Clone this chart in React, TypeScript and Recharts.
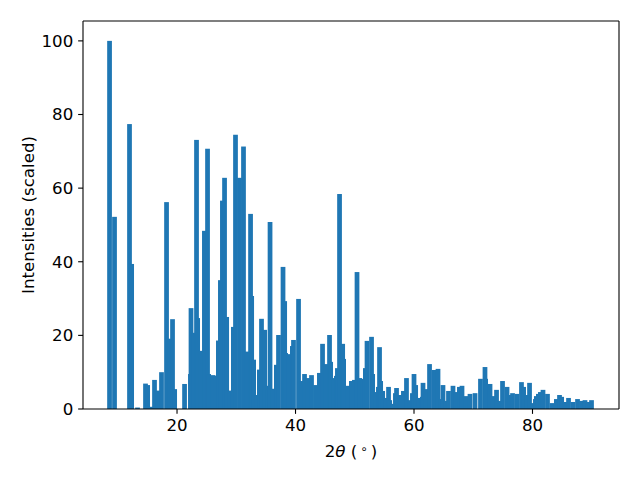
import React from "react";
import { BarChart, Bar, XAxis, YAxis, ReferenceLine } from "recharts";

// peak positions (2theta, degrees) and scaled intensities
const twoTheta = [
  8.61, 9.45, 11.98, 12.34, 13.33, 14.68, 15.04, 15.61, 16.2, 16.79,
  17.38, 18.23, 18.73, 19.24, 19.6, 21.27, 22.26, 22.36, 22.78, 23.29,
  23.48, 24.05, 24.62, 25.15, 25.34, 26.08, 26.81, 26.98, 27.32, 27.66,
  28.02, 28.38, 28.95, 29.51, 29.87, 30.55, 31.22, 31.81, 32.41, 32.6,
  32.93, 33.42, 33.9, 34.26, 34.79, 35.27, 35.7, 36.2, 36.77, 37.13,
  37.89, 38.17, 38.33, 38.9, 39.47, 39.66, 40.51, 41.01, 41.52, 42.11,
  42.7, 43.38, 44.03, 44.56, 45.15, 45.74, 45.93, 46.41, 46.9, 47.07,
  47.43, 47.96, 48.12, 48.92, 49.43, 49.94, 50.38, 50.82, 51.31, 51.79,
  52.07, 52.83, 53.02, 53.5, 53.99, 54.18, 54.37, 54.71, 55.19, 55.7,
  55.89, 56.37, 56.86, 57.05, 57.64, 58.21, 58.73, 59.24, 59.73, 60.0,
  60.28, 60.84, 61.41, 61.52, 62.03, 62.62, 63.38, 64.05, 64.47, 64.89,
  65.32, 65.82, 66.58, 67.09, 67.66, 68.1, 68.78, 69.45, 70.3, 71.22,
  71.98, 72.09, 72.83, 73.33, 73.93, 74.43, 74.94, 75.7, 76.12, 76.63,
  77.39, 78.14, 78.5, 78.99, 79.5, 80.0, 80.49, 80.65, 80.99, 81.33,
  81.77, 82.53, 83.29, 84.03, 84.56, 84.92, 85.49, 86.08, 86.84, 87.6,
  88.27, 88.86, 89.37, 89.96,
];

const intensity = [
  100, 52.2, 77.4, 39.4, 0.4, 6.9, 6.5, 0.6, 7.9, 5.0,
  10.0, 56.2, 19.1, 24.4, 5.4, 6.8, 9.5, 27.4, 20.7, 73.1,
  24.7, 15.8, 48.4, 70.7, 9.5, 9.2, 9.0, 18.6, 35.0, 56.6,
  62.8, 25.0, 5.0, 22.3, 74.5, 62.8, 71.3, 15.6, 53.0, 30.7,
  13.4, 3.8, 10.7, 24.5, 21.5, 6.3, 50.8, 5.5, 12.0, 20.1,
  38.6, 29.3, 15.2, 14.9, 17.1, 18.75, 29.9, 7.6, 9.5, 8.4,
  9.2, 6.5, 9.8, 17.7, 12.2, 20.1, 12.8, 8.4, 9.0, 11.1,
  58.4, 17.7, 13.6, 6.3, 7.6, 7.9, 37.2, 8.4, 8.2, 11.1,
  18.5, 19.6, 9.5, 4.6, 6.0, 16.8, 7.6, 4.9, 3.0, 6.0,
  2.4, 1.4, 4.3, 5.7, 3.8, 4.9, 8.4, 2.4, 4.3, 9.5,
  6.5, 3.0, 3.3, 7.1, 5.4, 12.2, 10.6, 10.9, 2.7, 6.5,
  2.2, 4.9, 6.3, 4.6, 6.0, 6.3, 3.5, 4.1, 4.3, 8.2,
  11.4, 8.2, 6.8, 3.5, 5.2, 2.2, 7.6, 6.0, 3.8, 4.3,
  4.1, 7.3, 6.0, 3.8, 7.1, 1.6, 2.7, 3.5, 4.1, 4.6,
  5.2, 4.1, 1.6, 2.7, 3.8, 3.3, 1.9, 3.0, 1.9, 2.7,
  2.2, 2.4, 1.9, 2.4,
];

const xTicks = [20, 40, 60, 80];
const yTicks = [0, 20, 40, 60, 80, 100];

const X_DOMAIN: [number, number] = [4.13, 94.6];
const Y_DOMAIN: [number, number] = [0, 105.4];

const WIDTH = 640;
const HEIGHT = 480;
const MARGIN = { top: 21, right: 21, bottom: 0, left: 0 };
const Y_AXIS_W = 83;
const X_AXIS_H = 71;
const PLOT_W = WIDTH - MARGIN.left - MARGIN.right - Y_AXIS_W;
// matplotlib default bar width of 0.8 data units, in pixels
const BAR_PX = (0.8 * PLOT_W) / (X_DOMAIN[1] - X_DOMAIN[0]);

const BLUE = "#1f77b4";
const FONT = "'DejaVu Sans', sans-serif";
const FS = 16.67;
const TICK = 4.86;

const data = twoTheta.map((x, i) => ({ x, y: intensity[i] }));

// keep recharts' centre for each bar but give it a fixed data width
function FixedBar(props: any) {
  const { x, y, width, height } = props;
  if (height == null || !isFinite(x)) return null;
  const cx = x + width / 2;
  return (
    <rect x={cx - BAR_PX / 2} y={y} width={BAR_PX} height={height} fill={BLUE} />
  );
}

function XLabel() {
  return (
    <text x={351} y={456.5} textAnchor="middle" fontFamily={FONT} fontSize={FS} fill="#000">
      <tspan>2</tspan>
      <tspan fontStyle="italic">θ</tspan>
      <tspan> (</tspan>
      <tspan dx={3} dy={-4} fontSize={12}>∘</tspan>
      <tspan dx={3} dy={4}>)</tspan>
    </text>
  );
}

function YLabel() {
  return (
    <text
      transform="translate(34,215) rotate(-90)"
      x={0}
      y={0}
      textAnchor="middle"
      fontFamily={FONT}
      fontSize={FS}
      fill="#000"
    >
      Intensities (scaled)
    </text>
  );
}

const tickStyle = { fill: "#000", fontSize: FS, fontFamily: FONT };

export default function App() {
  return (
    <div style={{ width: WIDTH, height: HEIGHT, background: "#fff" }}>
      <style>{`body { margin: 0; }`}</style>
      <BarChart width={WIDTH} height={HEIGHT} data={data} margin={MARGIN}>
        <XAxis
          dataKey="x"
          type="number"
          domain={X_DOMAIN}
          allowDataOverflow
          ticks={xTicks}
          interval={0}
          height={X_AXIS_H}
          tickSize={TICK}
          tickMargin={TICK}
          tick={tickStyle}
          axisLine={{ stroke: "#000", strokeWidth: 1.1 }}
          tickLine={{ stroke: "#000", strokeWidth: 1.1 }}
          label={<XLabel />}
        />
        <YAxis
          type="number"
          domain={Y_DOMAIN}
          allowDataOverflow
          ticks={yTicks}
          interval={0}
          width={Y_AXIS_W}
          tickSize={TICK}
          tickMargin={TICK}
          tick={tickStyle}
          axisLine={{ stroke: "#000", strokeWidth: 1.1 }}
          tickLine={{ stroke: "#000", strokeWidth: 1.1 }}
          label={<YLabel />}
        />
        <Bar dataKey="y" fill={BLUE} shape={FixedBar} isAnimationActive={false} />
        {/* top and right spines of the frame */}
        <ReferenceLine y={Y_DOMAIN[1]} stroke="#000" strokeWidth={1.1} ifOverflow="visible" />
        <ReferenceLine x={X_DOMAIN[1]} stroke="#000" strokeWidth={1.1} ifOverflow="visible" />
      </BarChart>
    </div>
  );
}
